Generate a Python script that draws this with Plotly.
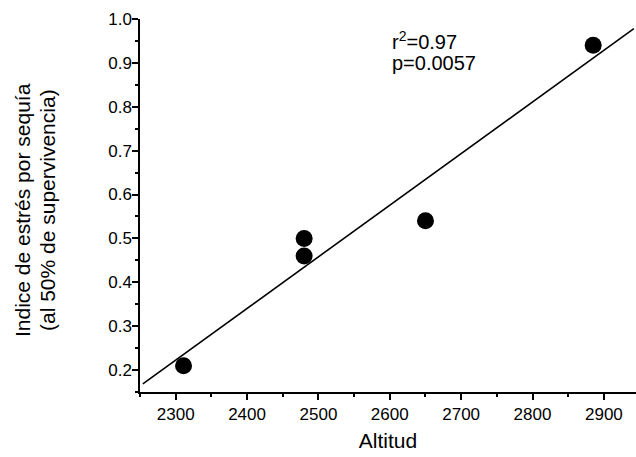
import numpy as np
import plotly.graph_objects as go

# Altitude of each population (m) and drought-stress index at 50% survival
altitud = [2311, 2480, 2480, 2650, 2885]
indice_estres = [0.21, 0.50, 0.46, 0.54, 0.94]

# Extent over which the fitted regression line is drawn
fit_x_span = [2254, 2942]

# Axis tick values
x_ticks = [2300, 2400, 2500, 2600, 2700, 2800, 2900]
y_ticks = [0.2, 0.3, 0.4, 0.5, 0.6, 0.7, 0.8, 0.9, 1.0]

# Regression statistics, one line each
stats_lines = ["r<sup>2</sup>=0.97", "p=0.0057"]
stats_y = [0.951, 0.899]

# Two-line y-axis title
y_title_lines = ["Indice de estrés por sequía", "(al 50% de supervivencia)"]

slope, intercept = np.polyfit(altitud, indice_estres, 1)
fit_x = np.array(fit_x_span, dtype=float)
fit_y = slope * fit_x + intercept

FONT = "Arial, 'Liberation Sans', sans-serif"
W, H = 636, 457
ML, MR, MT, MB = 140, 0, 19, 65
plot_w = W - ML - MR
plot_h = H - MT - MB

fig = go.Figure()
fig.add_trace(go.Scatter(
    x=fit_x, y=fit_y, mode="lines",
    line=dict(color="black", width=1.6),
    showlegend=False, hoverinfo="skip",
))
fig.add_trace(go.Scatter(
    x=altitud, y=indice_estres, mode="markers",
    marker=dict(color="black", size=17, line=dict(width=0)),
    showlegend=False,
))

axis_common = dict(
    showline=True, linecolor="black", linewidth=1.5,
    ticks="outside", ticklen=6, tickwidth=1.5, tickcolor="black",
    showgrid=False, zeroline=False, mirror=False,
    tickfont=dict(family=FONT, size=17, color="black"),
)

annotations = [
    dict(x=2600, y=yv, xref="x", yref="y",
         xanchor="left", yanchor="middle", align="left",
         text=txt, showarrow=False,
         font=dict(family=FONT, size=20, color="black"))
    for txt, yv in zip(stats_lines, stats_y)
]
# rotated y-axis title lines, placed in pixels left of the plot area
for txt, px in zip(y_title_lines, [22, 47]):
    annotations.append(dict(
        x=(px - ML) / plot_w, y=(H - MB - 210) / plot_h,
        xref="paper", yref="paper", xanchor="center", yanchor="middle",
        textangle=-90, text=txt, showarrow=False,
        font=dict(family=FONT, size=21, color="black"),
    ))

fig.update_layout(
    width=W, height=H,
    margin=dict(l=ML, r=MR, t=MT, b=MB),
    paper_bgcolor="white", plot_bgcolor="white",
    font=dict(family=FONT, color="black"),
    xaxis=dict(
        range=[2250, 2945], tickvals=x_ticks,
        minor=dict(dtick=50, tick0=2250, ticks="outside", ticklen=3,
                   tickwidth=1.5, tickcolor="black"),
        title=dict(text="Altitud", font=dict(family=FONT, size=21, color="black"),
                   standoff=10),
        **axis_common,
    ),
    yaxis=dict(
        range=[0.15, 1.0], tickvals=y_ticks, tickformat=".1f",
        ticklabelstandoff=-3,
        minor=dict(dtick=0.05, tick0=0.15, ticks="outside", ticklen=3,
                   tickwidth=1.5, tickcolor="black"),
        **axis_common,
    ),
    annotations=annotations,
)

fig.write_html("out.html")
